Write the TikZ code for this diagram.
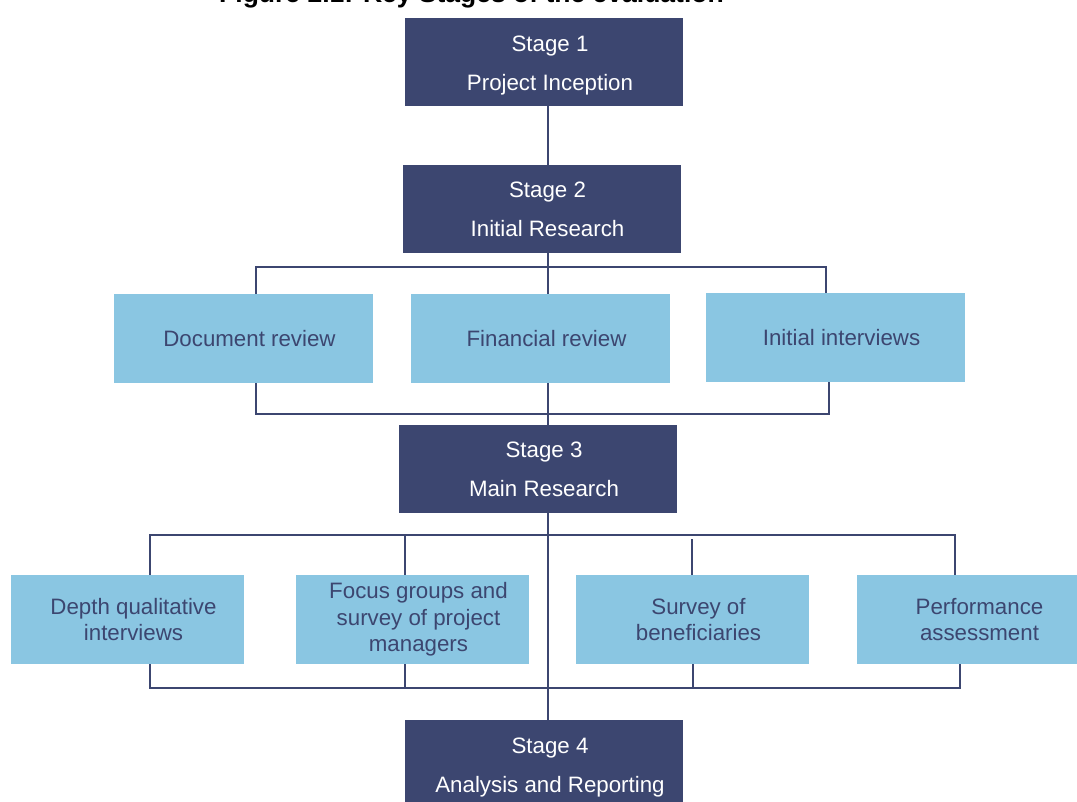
\documentclass[tikz,border=0pt]{standalone}
\usepackage{fontspec}
\setmainfont{Liberation Sans}
\definecolor{navy}{RGB}{60,70,112}
\definecolor{sky}{RGB}{138,198,226}
\begin{document}
\begin{tikzpicture}[x=1pt,y=-1pt,
  stagetext/.style={text=white, font=\fontsize{22.3}{39}\selectfont,
    align=center, xshift=6pt, inner sep=0pt},
  tasktext/.style={text=navy, font=\fontsize{22.3}{26.5}\selectfont,
    align=center, xshift=6pt, inner sep=0pt},
  stagebox/.style 2 args={fill=navy, minimum width=278pt, minimum height=88pt,
    inner sep=0pt, label={[stagetext,#1]center:{#2}}},
  taskbox/.style={fill=sky, minimum width=259pt, minimum height=89pt,
    inner sep=0pt, label={[tasktext]center:{#1}}},
  methodbox/.style={fill=sky, minimum width=233pt, minimum height=89pt,
    inner sep=0pt, label={[tasktext]center:{#1}}},
  conn/.style={draw=navy, line width=2pt},
]
\useasboundingbox (0,0) rectangle (1077,802);
\clip (0,0) rectangle (1077,802);

% heading, partly cut off by the top edge
\node[anchor=base west, inner sep=0pt, font=\bfseries\fontsize{26.5}{30}\selectfont]
  (title) at (219,3) {Figure 2.1: Key Stages of the evaluation};

% stages
\node[stagebox={yshift=-4pt}{Stage 1\\Project Inception}]      (s1) at (544,62)    {};
\node[stagebox={}{Stage 2\\Initial Research}]                  (s2) at (541.5,209) {};
\node[stagebox={}{Stage 3\\Main Research}]                     (s3) at (538,469)   {};
\node[stagebox={yshift=-4pt}{Stage 4\\Analysis and Reporting}] (s4) at (544,764)   {};

% initial research tasks
\node[taskbox={Document review}]    (doc) at (243.5,338.5) {};
\node[taskbox={Financial review}]   (fin) at (540.5,338.5) {};
\node[taskbox={Initial interviews}] (int) at (835.5,337.5) {};

% main research methods
\node[methodbox={Depth qualitative\\interviews}]                  (depth)  at (127.5,619.5) {};
\node[methodbox={Focus groups and\\survey of project\\managers}]  (focus)  at (412.5,619.5) {};
\node[methodbox={Survey of\\beneficiaries}]                       (survey) at (692.5,619.5) {};
\node[methodbox={Performance\\assessment}]                        (perf)   at (973.5,619.5) {};

% central spine
\coordinate (spine) at (547.5,0);
\draw[conn] (s1.south -| spine) -- (s2.north -| spine);
\draw[conn] (s2.south -| spine) -- (fin.north -| spine);
\draw[conn] (fin.south -| spine) -- (s3.north -| spine);
\draw[conn] (s3.south -| spine) -- (s4.north -| spine);

% brackets round the initial research tasks
\coordinate (b1tl) at (256,267);
\coordinate (b1tr) at (826,267);
\coordinate (b1bl) at (256,414);
\coordinate (b1br) at (829,414);
\draw[conn] (doc.north -| b1tl) -- (b1tl) -- (b1tr) -- (int.north -| b1tr);
\draw[conn] (doc.south -| b1bl) -- (b1bl) -- (b1br) -- (int.south -| b1br);

% brackets round the main research methods
\coordinate (b2tl) at (150,535);
\coordinate (b2tr) at (955,535);
\coordinate (k2t)  at (405,535);
\coordinate (k3t)  at (692,539);
\draw[conn] (depth.north -| b2tl) -- (b2tl) -- (b2tr) -- (perf.north -| b2tr);
\draw[conn] (k2t) -- (focus.north -| k2t);
\draw[conn] (k3t) -- (survey.north -| k3t);

\coordinate (b2bl) at (150,688);
\coordinate (b2br) at (960,688);
\coordinate (k2b)  at (405,688);
\coordinate (k3b)  at (693,688);
\draw[conn] (depth.south -| b2bl) -- (b2bl) -- (b2br) -- (perf.south -| b2br);
\draw[conn] (focus.south -| k2b) -- (k2b);
\draw[conn] (survey.south -| k3b) -- (k3b);
\end{tikzpicture}
\end{document}
